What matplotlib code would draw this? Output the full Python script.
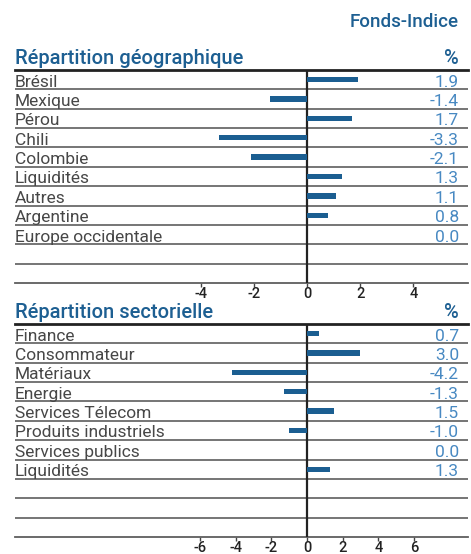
import matplotlib
matplotlib.use("Agg")
import matplotlib.pyplot as plt

geo_labels = ["Brésil", "Mexique", "Pérou", "Chili", "Colombie", "Liquidités",
              "Autres", "Argentine", "Europe occidentale"]
geo_values = [1.9, -1.4, 1.7, -3.3, -2.1, 1.3, 1.1, 0.8, 0.0]
geo_ticks = [-4, -2, 0, 2, 4]

sec_labels = ["Finance", "Consommateur", "Matériaux", "Energie", "Services Télecom",
              "Produits industriels", "Services publics", "Liquidités"]
sec_values = [0.7, 3.0, -4.2, -1.3, 1.5, -1.0, 0.0, 1.3]
sec_ticks = [-6, -4, -2, 0, 2, 4, 6]

W, H = 471, 554
fig = plt.figure(figsize=(W / 100, H / 100), dpi=100)

BAR = "#1b5e91"
VAL = "#4889c2"
HEAD = "#1d5f92"
TXT = "#474747"
LINE = "#5e5e5e"
FONT = "Roboto"

def panel(top_px, bot_px, xlim, labels, values, ticks, heading):
    x0, x1 = 15 / W, 468 / W
    ax = fig.add_axes([x0, 1 - bot_px / H, x1 - x0, (bot_px - top_px) / H])
    nrows = 11
    ax.set_xlim(*xlim)
    ax.set_ylim(nrows, 0)
    for s in ["top", "left", "right"]:
        ax.spines[s].set_visible(False)
    ax.spines["bottom"].set_color(LINE)
    ax.spines["bottom"].set_linewidth(1.3)
    for i in range(1, nrows):
        ax.axhline(i, color=LINE, lw=1.2, zorder=1)
    ax.axhline(0, color="#222222", lw=2.0, zorder=3, clip_on=False)
    ax.plot([0, 0], [0, nrows], color="#222222", lw=1.6, zorder=4)
    ypos = [i + 0.5 for i in range(len(values))]
    ax.barh(ypos, values, height=0.28, color=BAR, zorder=5)
    tr = ax.get_yaxis_transform()
    for y, lab, v in zip(ypos, labels, values):
        ax.text(0.0, y + 0.36, lab, transform=tr, ha="left", va="baseline",
                fontsize=12.5, color=TXT, family=FONT, fontweight="normal")
        ax.text(0.98, y + 0.36, f"{v:.1f}", transform=tr, ha="right", va="baseline",
                fontsize=12.5, color=VAL, family=FONT, fontweight="normal")
    ax.set_yticks([])
    ax.set_xticks(ticks)
    ax.set_xticklabels([str(t) for t in ticks], family=FONT, fontsize=10.5,
                       color="#222222", fontweight="medium")
    ax.tick_params(axis="x", direction="out", length=3, width=1, color="#444444", pad=0)
    ax.text(0.0, -0.3, heading, transform=tr, ha="left", va="baseline",
            fontsize=14.5, color=HEAD, family=FONT, fontweight="medium")
    ax.text(0.98, -0.3, "%", transform=tr, ha="right", va="baseline",
            fontsize=14.5, color=HEAD, family=FONT, fontweight="medium")
    return ax

panel(70, 283, (-10.98, 6.05), geo_labels, geo_values, geo_ticks,
      "Répartition géographique")
panel(324, 537, (-16.4, 9.04), sec_labels, sec_values, sec_ticks,
      "Répartition sectorielle")

fig.text(459 / W, 1 - 22 / H, "Fonds-Indice", ha="right", va="center",
         fontsize=13.5, color=HEAD, family=FONT, fontweight="medium")

fig.savefig("out.png", dpi=100)
